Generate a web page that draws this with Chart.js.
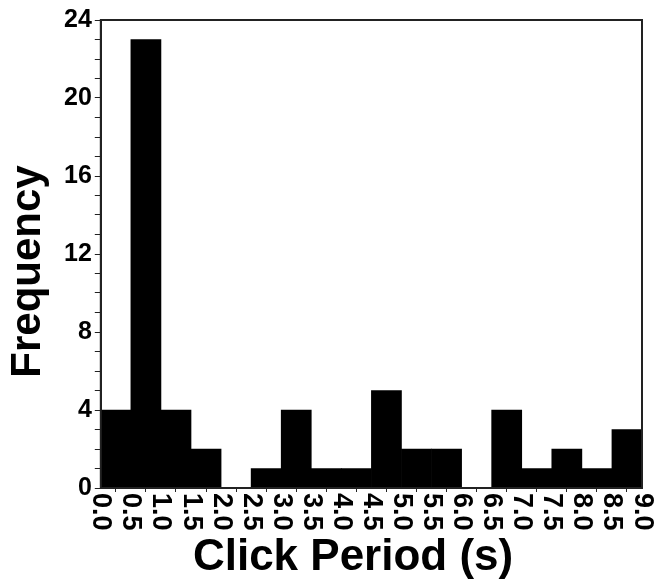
<!DOCTYPE html>
<html>
<head>
<meta charset="utf-8">
<script src="https://cdn.jsdelivr.net/npm/chart.js@4.4.1/dist/chart.umd.min.js"></script>
<style>
  html, body { margin: 0; padding: 0; background: #fff; }
  #wrap { width: 654px; height: 583px; }
</style>
</head>
<body>
<div id="wrap"><canvas id="histChart"></canvas></div>
<script>
// histogram bins (centres of 0.5 s wide bins) and counts
const binCenters = [0.25, 0.75, 1.25, 1.75, 2.25, 2.75, 3.25, 3.75, 4.25, 4.75, 5.25, 5.75, 6.25, 6.75, 7.25, 7.75, 8.25, 8.75];
const frequencies = [4, 23, 4, 2, 0, 1, 4, 1, 1, 5, 2, 2, 0, 4, 1, 2, 1, 3];

// axis ticks
const xTickValues = [0.0, 0.5, 1.0, 1.5, 2.0, 2.5, 3.0, 3.5, 4.0, 4.5, 5.0, 5.5, 6.0, 6.5, 7.0, 7.5, 8.0, 8.5, 9.0];
const xTickLabels = ["0.0", "0.5", "1.0", "1.5", "2.0", "2.5", "3.0", "3.5", "4.0", "4.5", "5.0", "5.5", "6.0", "6.5", "7.0", "7.5", "8.0", "8.5", "9.0"];
const yLabelled = [0, 4, 8, 12, 16, 20, 24];

const FONT = '"Liberation Sans", Arial, Helvetica, sans-serif';

// x labels are rotated clockwise (read top to bottom), chart.js only rotates the other way
const xLabelPlugin = {
    id: "xLabels",
    afterDraw(chart) {
        const ctx = chart.ctx;
        const xs = chart.scales.x;
        ctx.save();
        ctx.font = "bold 27px " + FONT;
        ctx.fillStyle = "#000";
        ctx.textAlign = "left";
        ctx.textBaseline = "middle";
        xTickValues.forEach((v, i) => {
            ctx.save();
            ctx.translate(xs.getPixelForValue(v), xs.top + 5);
            ctx.rotate(Math.PI / 2);
            ctx.fillText(xTickLabels[i], 0, 0);
            ctx.restore();
        });
        ctx.restore();
    }
};

// box round the plot area
const framePlugin = {
    id: "frame",
    afterDatasetsDraw(chart) {
        const { ctx, chartArea: a } = chart;
        ctx.save();
        ctx.strokeStyle = "#222";
        ctx.lineWidth = 2;
        ctx.strokeRect(a.left, a.top, a.right - a.left, a.bottom - a.top);
        ctx.restore();
    }
};

new Chart(document.getElementById("histChart").getContext("2d"), {
    type: "bar",
    data: {
        datasets: [{
            label: "Frequency",
            data: binCenters.map((x, i) => ({ x: x, y: frequencies[i] })),
            backgroundColor: "#000",
            borderWidth: 0,
            barPercentage: 1,
            categoryPercentage: 1
        }]
    },
    options: {
        responsive: true,
        maintainAspectRatio: false,
        animation: false,
        layout: { padding: { top: 20, right: 12, bottom: 3, left: 4 } },
        plugins: { legend: { display: false }, tooltip: { enabled: false } },
        scales: {
            x: {
                type: "linear",
                min: 0,
                max: 9,
                offset: false,
                ticks: { display: false, stepSize: 0.5 },
                grid: { drawOnChartArea: false, tickLength: 4, color: "#222" },
                border: { display: true, color: "#222", width: 2 },
                title: {
                    display: true,
                    // trailing spaces nudge the centred title a little left, as in the original
                    text: "Click Period (s)   ",
                    color: "#000",
                    font: { family: FONT, size: 44, weight: "bold", lineHeight: 1 },
                    padding: { top: 44, bottom: 0 }
                }
            },
            y: {
                min: 0,
                max: 24,
                ticks: {
                    stepSize: 1,
                    autoSkip: false,
                    padding: 3,
                    color: "#000",
                    font: { family: FONT, size: 25, weight: "bold" },
                    callback: (v) => yLabelled.includes(v) ? v : ""
                },
                grid: { drawOnChartArea: false, tickLength: 6, color: "#222" },
                border: { display: true, color: "#222", width: 2 },
                title: {
                    display: true,
                    text: "Frequency   ",
                    color: "#000",
                    font: { family: FONT, size: 42, weight: "bold", lineHeight: 1 },
                    padding: { top: 3, bottom: 12 }
                }
            }
        }
    },
    plugins: [xLabelPlugin, framePlugin]
});
</script>
</body>
</html>
